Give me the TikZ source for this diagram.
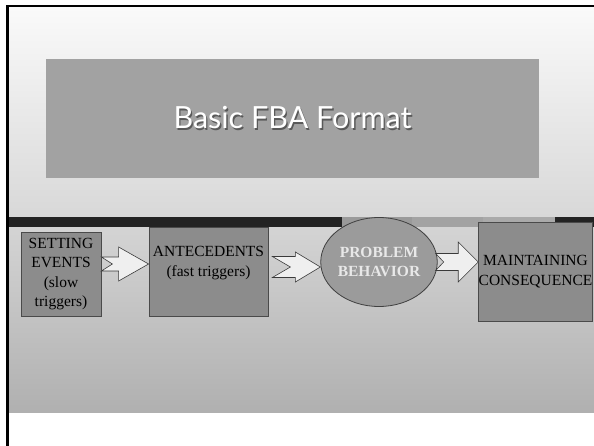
\documentclass[tikz,border=0pt]{standalone}
\usepackage{fontspec}
\setmainfont{Liberation Serif}
\newfontfamily\titlefont{Lato}
\usetikzlibrary{calc,shapes.geometric}
\definecolor{bgtop}{HTML}{FAFAFA}
\definecolor{bgmid}{HTML}{D8D8D8}
\definecolor{bglowa}{HTML}{D4D4D4}
\definecolor{bglowb}{HTML}{B0B0B0}
\definecolor{bardark}{HTML}{232323}
\definecolor{barA}{HTML}{9A9A9A}
\definecolor{barB}{HTML}{A3A3A3}
\definecolor{barC}{HTML}{AAAAAA}
\definecolor{titlefill}{HTML}{A2A2A2}
\definecolor{boxfill}{HTML}{8C8C8C}
\definecolor{boxline}{HTML}{4A4A4A}
\definecolor{ellfill}{HTML}{9B9B9B}
\definecolor{ellline}{HTML}{404040}
\definecolor{elltext}{HTML}{E8E8E8}
\definecolor{arrfill}{HTML}{EFEFEF}
\definecolor{arrline}{HTML}{3A3A3A}
\newcommand\shadowtext[1]{\makebox[0pt][l]{\hspace{1.4pt}\raisebox{-1.4pt}{\textcolor{black!65}{#1}}}\textcolor{white}{#1}}
% #1 tail anchor, #2 tip anchor, #3 y, #4 shaft half, #5 head half, #6 notch, #7 head length, #8 tail x offset
\newcommand\notcharrow[8]{%
  \coordinate (T) at ($(#1 |- 0,#3)+(#8,0)$);
  \coordinate (H) at (#2 |- 0,#3);
  \draw[arr] ($(T)+(0,#4)$) -- ($(H)+(-#7,#4)$) -- ($(H)+(-#7,#5)$) -- (H)
    -- ($(H)+(-#7,-#5)$) -- ($(H)+(-#7,-#4)$) -- ($(T)+(0,-#4)$) -- ($(T)+(#6,0)$) -- cycle;}
\begin{document}
\begin{tikzpicture}[x=1pt,y=1pt,
  txt/.style={align=center, inner sep=0pt, font=\fontsize{15.5}{19.5}\selectfont},
  box/.style={txt, draw=boxline, fill=boxfill, line width=0.8pt},
  arr/.style={draw=arrline, fill=arrfill, line width=0.6pt, line join=miter}]
\useasboundingbox (0,0) rectangle (594,-446);
\fill[white] (0,0) rectangle (594,-446);
\shade[top color=bgtop, bottom color=bgmid] (8.5,-7) rectangle (594,-217);
\shade[top color=bglowa, bottom color=bglowb] (8.5,-227) rectangle (594,-412);
\fill[bardark] (8.5,-217) rectangle (342,-227);
\fill[barA] (342,-217) rectangle (412,-227);
\fill[barB] (412,-217) rectangle (483,-227);
\fill[barC] (483,-217) rectangle (555,-227);
\fill[bardark] (555,-217) rectangle (594,-227);
\fill[black] (6,-5) rectangle (594,-7.3);
\fill[black] (6,-5) rectangle (8.6,-446);

\node[fill=titlefill, minimum width=493pt, minimum height=119pt, inner sep=0pt] (title) at (292.5,-118.5)
  {\titlefont\fontsize{30.5}{34}\selectfont\shadowtext{Basic FBA Format}};

\node[box, minimum width=80pt, minimum height=84pt] (set) at (61,-274) {SETTING\\EVENTS\\(slow\\triggers)};
\node[box, minimum width=119pt, minimum height=89pt] (ant) at (208.5,-271.5) {};
\node[txt] (antt) at (208.5,-263) {ANTECEDENTS\\(fast triggers)};
\node[box, minimum width=113pt, minimum height=99pt] (cons) at (535.5,-271.5) {MAINTAINING\\CONSEQUENCE};
\node[ellipse, draw=ellline, fill=ellfill, line width=0.8pt, minimum width=114pt, minimum height=89pt,
  inner sep=0pt, align=center, text=elltext, font=\fontsize{15.5}{19.5}\selectfont\bfseries] (beh) at (379,-262) {PROBLEM\\BEHAVIOR};

\notcharrow{set.east}{ant.west}{-264}{7}{17}{11}{30}{0}
\notcharrow{ant.east}{beh.west}{-267}{10.5}{15}{18}{25}{4}
\notcharrow{beh.east}{cons.west}{-262}{8.5}{20}{8}{20}{-2}
\end{tikzpicture}
\end{document}
